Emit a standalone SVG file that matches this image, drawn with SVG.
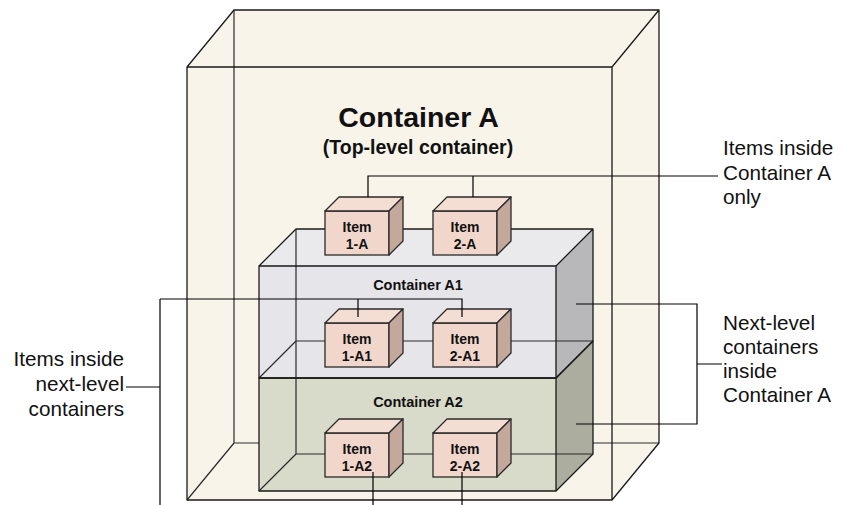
<svg xmlns="http://www.w3.org/2000/svg" width="843" height="505" viewBox="0 0 843 505">
<style>
text{font-family:"Liberation Sans",Arial,Helvetica,sans-serif;fill:#111}
.edge{fill:none;stroke:#1a1a1a;stroke-width:1.3;stroke-linejoin:round}
.bedge{fill:none;stroke:#2a2a2a;stroke-width:1.2}
.cream{fill:#F8F4EA}
.a1f{fill:#E6E6EA}.a1t{fill:#EAEAED}.a1r{fill:#B8B8BA}
.a2f{fill:#D8DBC9}.a2t{fill:#E7E7E9}.a2r{fill:#ACAC9F}
.itf{fill:#F1D7CB;stroke:#2a2a2a;stroke-width:1.3}
.itt{fill:#F4DDD3;stroke:#2a2a2a;stroke-width:1.3;stroke-linejoin:round}
.itr{fill:#C3A89B;stroke:#2a2a2a;stroke-width:1.3;stroke-linejoin:round}
.itx{font-size:14px;font-weight:bold;text-anchor:middle}
.ctx{font-size:14.5px;font-weight:bold;text-anchor:middle}
.lbl{font-size:20.7px}
.conn{fill:none;stroke:#000;stroke-width:1.2}
</style>
<defs>
<g id="cube">
<rect class="itf" x="0" y="0" width="64" height="44"/>
<polygon class="itt" points="0,0 14,-14 78,-14 64,0"/>
<polygon class="itr" points="64,0 78,-14 78,30 64,44"/>
</g>
</defs>

<g id="containerA">
<polygon class="cream" points="187,67 234,10 659,10 659,443 612,500 187,500"/>
<path class="bedge" d="M234,10 V443 H659 M187,500 L234,443"/>
<path class="edge" d="M187,67 H612 V500 H187 Z M187,67 L234,10 H659 V443 L612,500 M612,67 L659,10"/>
<text x="418.5" y="127" font-size="28.5" font-weight="bold" text-anchor="middle">Container A</text>
<text x="418" y="154" font-size="19.5" font-weight="bold" text-anchor="middle">(Top-level container)</text>
</g>

<g id="containerA2">
<polygon class="a2t" points="259,378 296,341 593,341 556,378"/>
<rect class="a2f" x="259" y="378" width="297" height="113"/>
<polygon class="a2r" points="556,378 593,341 593,454 556,491"/>
</g>

<g id="containerA1">
<polygon class="a1t" points="259,266 296,229 593,229 556,266"/>
<rect class="a1f" x="259" y="266" width="297" height="112"/>
<polygon class="a1r" points="556,266 593,229 593,341 556,378"/>
<path class="bedge" d="M296,229 V341 H593 M259,378 L296,341"/>
<path class="edge" d="M259,266 H556 V378 H259 Z M259,266 L296,229 H593 V341 L556,378 M556,266 L593,229"/>
<text class="ctx" x="418" y="290">Container A1</text>
</g>

<g id="containerA2-edges">
<path class="bedge" d="M296,341 V454 H593 M259,491 L296,454"/>
<path class="edge" d="M259,378 H556 V491 H259 Z M556,378 L593,341 V454 L556,491"/>
<text class="ctx" x="418" y="407">Container A2</text>
</g>

<g id="item1A"><use href="#cube" x="325" y="211"/><text class="itx" x="357" y="232">Item</text><text class="itx" x="357" y="249">1-A</text></g>
<g id="item2A"><use href="#cube" x="433" y="211"/><text class="itx" x="465" y="232">Item</text><text class="itx" x="465" y="249">2-A</text></g>
<g id="item1A1"><use href="#cube" x="325" y="323"/><text class="itx" x="357" y="344">Item</text><text class="itx" x="357" y="361">1-A1</text></g>
<g id="item2A1"><use href="#cube" x="433" y="323"/><text class="itx" x="465" y="344">Item</text><text class="itx" x="465" y="361">2-A1</text></g>
<g id="item1A2"><use href="#cube" x="325" y="433"/><text class="itx" x="357" y="454">Item</text><text class="itx" x="357" y="471">1-A2</text></g>
<g id="item2A2"><use href="#cube" x="433" y="433"/><text class="itx" x="465" y="454">Item</text><text class="itx" x="465" y="471">2-A2</text></g>

<g id="connectors">
<path class="conn" d="M368,197 V176 H718 M473,197 V176"/>
<path class="conn" d="M358,317 V299 H462 V317 M160,299 H358 M160,299 V505 M126,387 H160"/>
<path class="conn" d="M373,472 V505 M462,472 V505"/>
<path class="conn" d="M576,304 H697 V424 H576 M697,364 H722"/>
</g>

<g id="labels">
<text class="lbl" x="723" y="155">Items inside</text>
<text class="lbl" x="723" y="180">Container A</text>
<text class="lbl" x="723" y="204">only</text>
<text class="lbl" x="124" y="366" text-anchor="end">Items inside</text>
<text class="lbl" x="124" y="391" text-anchor="end">next-level</text>
<text class="lbl" x="124" y="416" text-anchor="end">containers</text>
<text class="lbl" x="723" y="330">Next-level</text>
<text class="lbl" x="723" y="354">containers</text>
<text class="lbl" x="723" y="378">inside</text>
<text class="lbl" x="723" y="402">Container A</text>
</g>
</svg>
